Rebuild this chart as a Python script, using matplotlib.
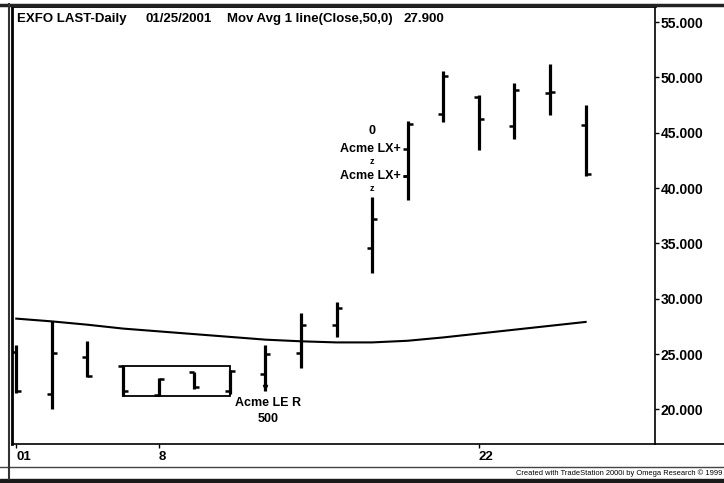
import matplotlib.pyplot as plt
from matplotlib.lines import Line2D
from matplotlib.patches import Rectangle

plt.rcParams['font.family'] = ['Liberation Sans', 'DejaVu Sans']

# daily bars, EXFO, January 2001
days = [2, 3, 4, 5, 8, 9, 10, 11, 12, 16, 17, 18, 19, 22, 23, 24, 25]
opens = [25.2, 21.4, 24.7, 23.9, 21.3, 23.4, 21.7, 23.2, 25.1, 27.6, 34.6, 41.1, 46.7, 48.2, 45.6, 48.6, 45.7]
highs = [25.8, 28.0, 26.2, 23.9, 22.8, 23.4, 23.6, 25.8, 28.7, 29.7, 39.2, 46.1, 50.6, 48.4, 49.5, 51.2, 47.5]
lows = [21.5, 20.0, 22.9, 21.2, 21.2, 21.8, 21.4, 21.7, 23.7, 26.5, 32.3, 38.9, 46.0, 43.4, 44.4, 46.6, 41.1]
closes = [21.7, 25.1, 23.0, 21.7, 22.7, 22.0, 23.5, 25.0, 27.6, 29.2, 37.2, 45.8, 50.1, 46.2, 48.9, 48.7, 41.3]
mov_avg = [28.2, 27.95, 27.65, 27.3, 27.05, 26.8, 26.55, 26.3, 26.15, 26.05, 26.05, 26.2, 26.5, 26.85, 27.2, 27.55, 27.9]

tick_pos = [0, 4, 13]
tick_labels = ['01', '8', '22']
price_ticks = [20, 25, 30, 35, 40, 45, 50, 55]

# consolidation box over bars 3..6
box_first, box_last = 3, 6
entry_bar = 7
exit_bar = 11
exit_prices = [43.5, 41.1]

W, H = 724, 483
fig = plt.figure(figsize=(W / 100, H / 100), dpi=100)
fig.patch.set_facecolor('white')


def fx(px):
    return px / W


def fy(py):
    return 1 - py / H


ax = fig.add_axes([fx(12), fy(444), fx(655) - fx(12), fy(6) - fy(444)])
ax.set_xlim(-0.12, 17.95)
ax.set_ylim(16.87, 56.45)

tk = 0.14
for i in range(len(days)):
    ax.vlines(i, lows[i], highs[i], color='black', lw=2.3)
    ax.hlines(opens[i], i - tk, i, color='black', lw=1.8)
    ax.hlines(closes[i], i, i + tk, color='black', lw=1.8)

ax.plot(range(len(days)), mov_avg, color='black', lw=1.5)

# box around the flat bars
b_hi = max(highs[box_first:box_last + 1])
b_lo = min(lows[box_first:box_last + 1])
ax.add_patch(Rectangle((box_first, b_lo), box_last - box_first, b_hi - b_lo,
                       fill=False, ec='black', lw=1.3))

# long entry
ax.plot(entry_bar, lows[entry_bar] + 0.3, marker='v', ms=3, color='black')
ax.annotate('Acme LE R', (entry_bar, lows[entry_bar]), xytext=(3, -12),
            textcoords='offset pixels', ha='center', va='center',
            fontsize=9, fontweight='bold')
ax.annotate('500', (entry_bar, lows[entry_bar]), xytext=(3, -28),
            textcoords='offset pixels', ha='center', va='center',
            fontsize=9, fontweight='bold')

# exits
for p in exit_prices:
    ax.hlines(p, exit_bar - tk, exit_bar, color='black', lw=1.8)
    ax.text(exit_bar - 0.2, p, 'Acme LX+', ha='right', va='center',
            fontsize=9, fontweight='bold')
ax.text(10, 45.15, '0', ha='center', va='center', fontsize=9, fontweight='bold')
for p in [42.4, 39.97]:
    ax.text(10, p, 'z', ha='center', va='center', fontsize=6.5, fontweight='bold')

# header
for x0, s in [(17, 'EXFO LAST-Daily'), (146, '01/25/2001'),
              (227, 'Mov Avg 1 line(Close,50,0)'), (404, '%.3f' % mov_avg[-1])]:
    fig.text(fx(x0), fy(19), s, ha='left', va='center', fontsize=9.5, fontweight='bold')

ax.set_xticks(tick_pos)
ax.set_xticklabels(tick_labels, ha='left', fontsize=9.5, fontweight='bold')
ax.tick_params(axis='x', direction='out', length=3, width=1, pad=2)

ax.yaxis.tick_right()
ax.set_yticks(price_ticks)
ax.set_yticklabels(['%.3f' % v for v in price_ticks], fontsize=10, fontweight='bold')
ax.tick_params(axis='y', direction='out', length=3, width=1, pad=1)

for s in ['left', 'top']:
    ax.spines[s].set_linewidth(2)
for s in ['right', 'bottom']:
    ax.spines[s].set_linewidth(1.2)

# frame lines around the chart window
fig.add_artist(Line2D([0, 1], [fy(4.5), fy(4.5)], color='#222222', lw=2.5))
fig.add_artist(Line2D([fx(655), 1], [fy(444), fy(444)], color='black', lw=1.2))
fig.add_artist(Line2D([0, 1], [fy(467), fy(467)], color='#444444', lw=1.0))
fig.add_artist(Line2D([fx(9), fx(9)], [fy(4), fy(479)], color='#333333', lw=1.5))
fig.add_artist(Rectangle((0, 0), 1, fy(479), color='#1a1a1a', transform=fig.transFigure))
fig.text(fx(722), fy(473.5), 'Created with TradeStation 2000i by Omega Research \u00a9 1999',
         ha='right', va='center', fontsize=5.4)

fig.savefig('out.png', dpi=100)
